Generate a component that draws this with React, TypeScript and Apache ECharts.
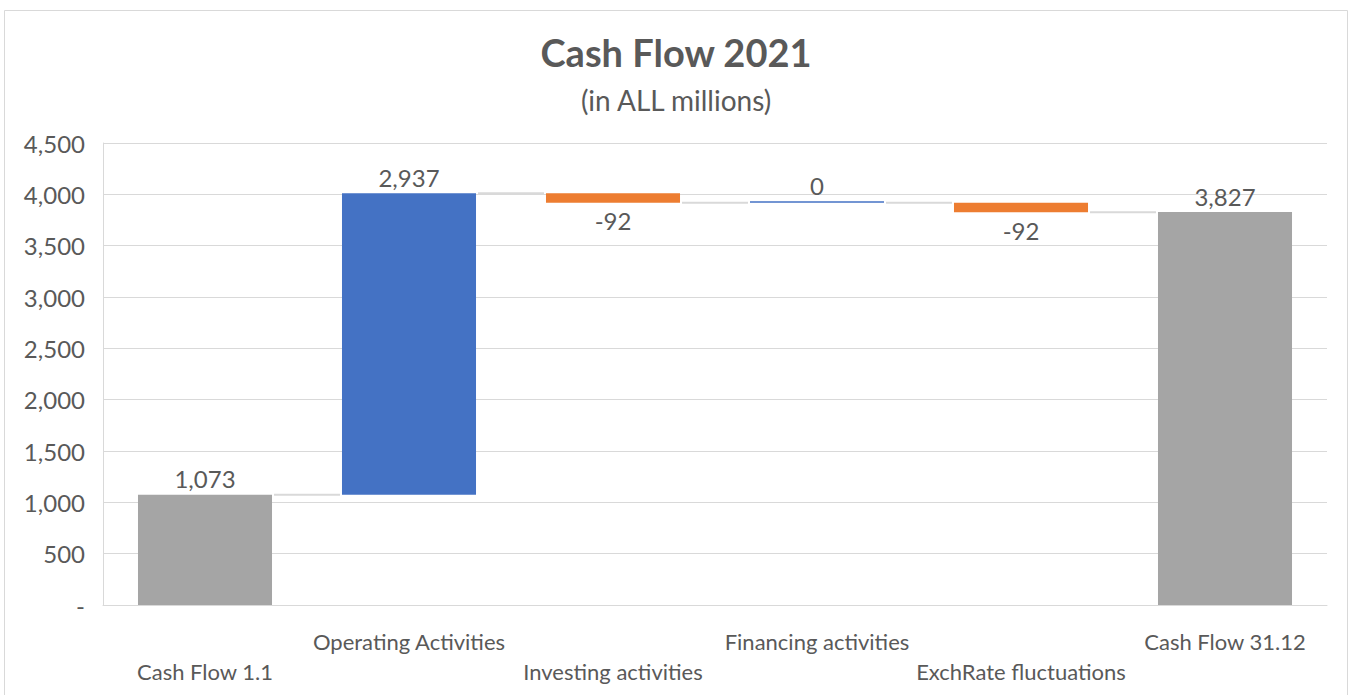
import React, { useEffect, useRef } from "react";
import * as echarts from "echarts";

const categories = [
  "Cash Flow 1.1",
  "Operating Activities",
  "Investing activities",
  "Financing activities",
  "ExchRate fluctuations",
  "Cash Flow 31.12",
];
const values = [1073, 2937, -92, 0, -92, 3827];
const kinds = ["total", "change", "change", "change", "change", "total"];
const yTicks = { min: 0, max: 4500, interval: 500 };

const TEXT = "#595959";
const GRID = "#d9d9d9";
const FONT = "Lato, 'Open Sans', sans-serif";

function fmt(v: number) {
  return v.toLocaleString("en-US");
}

export default function App() {
  const ref = useRef<HTMLDivElement>(null);
  useEffect(() => {
    document.body.style.margin = "0";
    if (!ref.current) return;
    const chart = echarts.init(ref.current, null, { renderer: "svg" });

    const base: (number | string)[] = [];
    const totals: (number | string)[] = [];
    const ups: (number | string)[] = [];
    const downs: (number | string)[] = [];
    const levels: number[] = [];
    let running = 0;
    values.forEach((v, i) => {
      if (kinds[i] === "total") {
        base.push(0);
        totals.push(v);
        ups.push("-");
        downs.push("-");
        running = v;
      } else if (v >= 0) {
        base.push(running);
        totals.push("-");
        ups.push(v);
        downs.push("-");
        running += v;
      } else {
        base.push(running + v);
        totals.push("-");
        ups.push("-");
        downs.push(-v);
        running += v;
      }
      levels.push(running);
    });
    const connectors = levels.slice(0, -1).map((l, i) => [i, l]);
    const BW = 0.657;

    const labelStyle = {
      show: true,
      color: TEXT,
      fontSize: 24,
      fontFamily: FONT,
    };

    chart.setOption({
      animation: false,
      textStyle: { fontFamily: FONT },
      title: {
        text: "Cash Flow 2021",
        subtext: "(in ALL millions)",
        left: "center",
        top: 28,
        itemGap: 15,
        textStyle: { color: TEXT, fontSize: 38, fontWeight: "bold", fontFamily: FONT },
        subtextStyle: { color: TEXT, fontSize: 28, fontFamily: FONT },
      },
      graphic: [
        {
          type: "rect",
          shape: { x: 4.5, y: 10.5, width: 1343, height: 700 },
          style: { fill: "none", stroke: GRID, lineWidth: 1 },
          silent: true,
        },
      ],
      grid: { left: 103, right: 25, top: 143, bottom: 90, containLabel: false },
      xAxis: {
        type: "category",
        data: categories,
        axisLine: { lineStyle: { color: GRID, width: 1 } },
        axisTick: { show: false },
        axisLabel: {
          interval: 0,
          color: TEXT,
          fontSize: 22,
          fontFamily: FONT,
          margin: 21,
          lineHeight: 30,
          formatter: (v: string, i: number) => (i % 2 === 0 ? "\n" + v : v),
        },
      },
      yAxis: {
        type: "value",
        min: yTicks.min,
        max: yTicks.max,
        interval: yTicks.interval,
        axisLine: { show: true, lineStyle: { color: GRID } },
        axisTick: { show: false },
        splitLine: { lineStyle: { color: GRID, width: 1 } },
        axisLabel: {
          color: TEXT,
          fontSize: 24,
          fontFamily: FONT,
          margin: 18,
          formatter: (v: number) => (v === 0 ? "-" : fmt(v)),
        },
      },
      series: [
        {
          type: "bar",
          stack: "w",
          data: base,
          barWidth: BW * 100 + "%",
          itemStyle: { color: "transparent" },
          silent: true,
          z: 1,
        },
        {
          type: "bar",
          stack: "w",
          data: totals,
          barWidth: BW * 100 + "%",
          itemStyle: { color: "#A5A5A5" },
          label: { ...labelStyle, position: "top", distance: 4, formatter: (p: any) => fmt(p.value) },
        },
        {
          type: "bar",
          stack: "w",
          data: ups,
          barWidth: BW * 100 + "%",
          barMinHeight: 1.5,
          itemStyle: { color: "#4472C4" },
          label: { ...labelStyle, position: "top", distance: 4, formatter: (p: any) => fmt(p.value) },
        },
        {
          type: "bar",
          stack: "w",
          data: downs,
          barWidth: BW * 100 + "%",
          itemStyle: { color: "#ED7D31" },
          label: { ...labelStyle, position: "bottom", distance: 6, formatter: (p: any) => "-" + fmt(p.value) },
        },
        {
          type: "custom",
          data: connectors,
          encode: { x: 0, y: 1 },
          silent: true,
          z: 3,
          renderItem: (params: any, api: any) => {
            const i = api.value(0);
            const lvl = api.value(1);
            const p1 = api.coord([i, lvl]);
            const p2 = api.coord([i + 1, lvl]);
            const bw = api.size([1, 0])[0] * BW;
            return {
              type: "line",
              shape: { x1: p1[0] + bw / 2 + 2, y1: p1[1], x2: p2[0] - bw / 2 - 2, y2: p2[1] },
              style: { stroke: GRID, lineWidth: 2 },
            };
          },
        },
      ],
    });
    return () => chart.dispose();
  }, []);
  return <div ref={ref} style={{ width: 1352, height: 695 }} />;
}
